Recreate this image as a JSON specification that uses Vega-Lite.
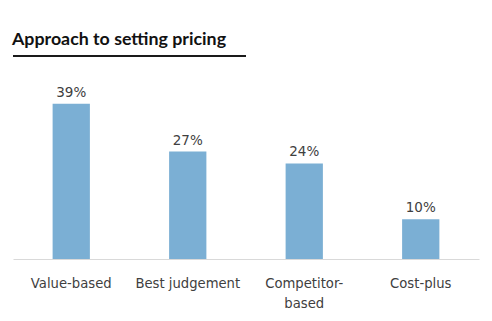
{
  "$schema": "https://vega.github.io/schema/vega-lite/v6.json",
  "width": 466,
  "height": 199,
  "autosize": "none",
  "padding": {"left": 13, "top": 60, "right": 13, "bottom": 62},
  "background": "white",
  "config": {"view": {"stroke": null}, "font": "DejaVu Sans"},
  "title": {
    "text": "Approach to setting pricing",
    "anchor": "start",
    "frame": "group",
    "font": "Lato",
    "fontSize": 17.8,
    "fontWeight": "bold",
    "color": "#111111",
    "offset": 13,
    "baseline": "alphabetic",
    "dy": 21,
    "dx": -1
  },
  "layer": [
    {
      "data": {"values": [
        {"approach": "Value-based", "share": 0.39},
        {"approach": "Best judgement", "share": 0.27},
        {"approach": "Competitor-based", "share": 0.24},
        {"approach": "Cost-plus", "share": 0.10}
      ]},
      "encoding": {
        "x": {
          "field": "approach", "type": "nominal", "sort": null,
          "scale": {"paddingInner": 0.68, "paddingOuter": 0.34},
          "axis": {
            "title": null, "ticks": false, "labelAngle": 0,
            "domainColor": "#d9d9d9", "domainWidth": 1,
            "labelFont": "DejaVu Sans", "labelFontSize": 13.2, "labelColor": "#404040",
            "labelPadding": 28, "labelLineHeight": 20, "labelBaseline": "alphabetic",
            "labelExpr": "datum.label == 'Competitor-based' ? ['Competitor-', 'based'] : datum.label"
          }
        },
        "y": {
          "field": "share", "type": "quantitative",
          "scale": {"domain": [0, 0.5], "nice": false},
          "axis": null
        }
      },
      "layer": [
        {"mark": {"type": "bar", "color": "#7BAFD4"}},
        {
          "mark": {"type": "text", "baseline": "alphabetic", "dy": -7, "font": "DejaVu Sans", "fontSize": 13.5, "color": "#404040"},
          "encoding": {"text": {"field": "share", "type": "quantitative", "format": ".0%"}}
        }
      ]
    },
    {
      "data": {"values": [{}]},
      "mark": {"type": "rule", "color": "#1a1a1a", "strokeWidth": 2},
      "encoding": {
        "x": {"datum": 0, "type": "quantitative", "scale": {"domain": [0, 2]}, "axis": null},
        "x2": {"datum": 1},
        "y": {"datum": 0.51, "type": "quantitative"}
      }
    }
  ],
  "resolve": {"scale": {"x": "independent"}}
}
